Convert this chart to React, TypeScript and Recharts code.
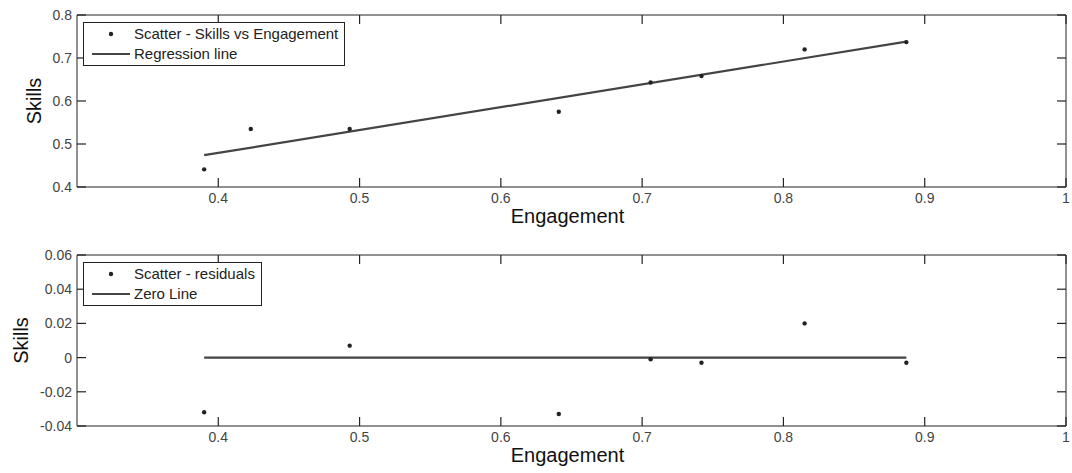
import { ComposedChart, Scatter, Line, XAxis, YAxis } from 'recharts';

// engagement values (x) for the scatter points
const engagement = [0.39, 0.423, 0.493, 0.641, 0.706, 0.742, 0.815, 0.887];
const skills = [0.441, 0.535, 0.535, 0.575, 0.643, 0.658, 0.72, 0.737];

// residuals only show 7 points in the source figure
const residualX = [0.39, 0.493, 0.641, 0.706, 0.742, 0.815, 0.887];
const residuals = [-0.032, 0.007, -0.033, -0.001, -0.003, 0.02, -0.003];

const regressionX = [0.39, 0.887];
const regressionY = [0.474, 0.738];
const zeroX = [0.39, 0.887];
const zeroY = [0, 0];

const xTicks = [0.4, 0.5, 0.6, 0.7, 0.8, 0.9, 1];
const skillTicks = [0.4, 0.5, 0.6, 0.7, 0.8];
const residualTicks = [-0.04, -0.02, 0, 0.02, 0.04, 0.06];

const zip = (xs: number[], ys: number[]) => xs.map((x, i) => ({ x, y: ys[i] }));

const FONT = 'Arial, "Liberation Sans", sans-serif';
const W = 1072;
const TICK = 9;
const tickStyle = { fontSize: 14, fill: '#444', fontFamily: FONT };

const Dot = (props: any) => <circle cx={props.cx} cy={props.cy} r={2.2} fill="#222" />;

// tick renderers: the tick mark points into the plot box, like the source figure
const BottomTick = (props: any) => (
  <g>
    <line x1={props.x} x2={props.x} y1={props.y - 8} y2={props.y - 8 - TICK} stroke="#222" strokeWidth={1.2} />
    <text x={props.x} y={props.y + 8} textAnchor="middle" {...tickStyle}>
      {props.payload.value}
    </text>
  </g>
);
const TopTick = (props: any) => (
  <line x1={props.x} x2={props.x} y1={props.y} y2={props.y + TICK} stroke="#222" strokeWidth={1.2} />
);
const LeftTick = (props: any) => (
  <g>
    <line x1={props.x + 5} x2={props.x + 5 + TICK} y1={props.y} y2={props.y} stroke="#222" strokeWidth={1.2} />
    <text x={props.x} y={props.y + 5} textAnchor="end" {...tickStyle}>
      {props.payload.value}
    </text>
  </g>
);
const RightTick = (props: any) => (
  <line x1={props.x} x2={props.x - TICK} y1={props.y} y2={props.y} stroke="#222" strokeWidth={1.2} />
);

function LegendBox({ labels, left, top }: { labels: [string, string]; left: number; top: number }) {
  return (
    <div
      style={{
        position: 'absolute',
        left,
        top,
        border: '1px solid #222',
        background: '#fff',
        fontFamily: FONT,
        fontSize: 15,
        color: '#222',
        padding: '1px 6px 1px 7px',
        lineHeight: '20px',
        whiteSpace: 'nowrap',
      }}
    >
      <div style={{ display: 'flex', alignItems: 'center' }}>
        <svg width={43} height={20}>
          <circle cx={20} cy={10} r={2.2} fill="#222" />
        </svg>
        <span>{labels[0]}</span>
      </div>
      <div style={{ display: 'flex', alignItems: 'center' }}>
        <svg width={43} height={20}>
          <line x1={1} x2={39} y1={10} y2={10} stroke="#444" strokeWidth={2} />
        </svg>
        <span>{labels[1]}</span>
      </div>
    </div>
  );
}

interface PanelProps {
  height: number;
  top: number;
  bottom: number;
  yDomain: [number, number];
  yTicks: number[];
  scatter: { x: number; y: number }[];
  line: { x: number; y: number }[];
  legend: [string, string];
  yLabelShift: number;
}

function Panel({ height, top, bottom, yDomain, yTicks, scatter, line, legend, yLabelShift }: PanelProps) {
  return (
    <div style={{ position: 'relative', width: W, height }}>
      <ComposedChart width={W} height={height} margin={{ top: top - 1, right: 5, bottom, left: 17 }}>
        <XAxis
          xAxisId="b"
          type="number"
          dataKey="x"
          domain={[0.3, 1]}
          ticks={xTicks}
          allowDataOverflow
          height={40}
          stroke="#222"
          tickLine={false}
          tickSize={0}
          tickMargin={8}
          tick={<BottomTick />}
          label={({ viewBox }: any) => (
            <text
              x={viewBox.x + viewBox.width / 2 - 4}
              y={viewBox.y + 36}
              textAnchor="middle"
              fontFamily={FONT}
              fontSize={20}
              fill="#111"
            >
              Engagement
            </text>
          )}
        />
        <XAxis
          xAxisId="t"
          orientation="top"
          type="number"
          dataKey="x"
          domain={[0.3, 1]}
          ticks={xTicks}
          allowDataOverflow
          height={1}
          stroke="#222"
          tickLine={false}
          tickSize={0}
          tickMargin={0}
          tick={<TopTick />}
        />
        <YAxis
          yAxisId="l"
          type="number"
          domain={yDomain}
          ticks={yTicks}
          allowDataOverflow
          width={60}
          stroke="#222"
          tickLine={false}
          tickSize={0}
          tickMargin={5}
          tick={<LeftTick />}
          label={({ viewBox }: any) => {
            const cx = viewBox.x + yLabelShift;
            const cy = viewBox.y + viewBox.height / 2;
            return (
              <text
                x={cx}
                y={cy}
                transform={`rotate(-90 ${cx} ${cy})`}
                textAnchor="middle"
                dominantBaseline="central"
                fontFamily={FONT}
                fontSize={20}
                fill="#111"
              >
                Skills
              </text>
            );
          }}
        />
        <YAxis
          yAxisId="r"
          orientation="right"
          type="number"
          domain={yDomain}
          ticks={yTicks}
          allowDataOverflow
          width={1}
          stroke="#222"
          tickLine={false}
          tickSize={0}
          tickMargin={0}
          tick={<RightTick />}
        />
        <Line
          xAxisId="b"
          yAxisId="l"
          data={line}
          dataKey="y"
          stroke="#444"
          strokeWidth={2.2}
          dot={false}
          activeDot={false}
          isAnimationActive={false}
        />
        <Scatter
          xAxisId="b"
          yAxisId="l"
          data={scatter}
          dataKey="y"
          shape={<Dot />}
          isAnimationActive={false}
        />
      </ComposedChart>
      <LegendBox labels={legend} left={83} top={top + 7} />
    </div>
  );
}

export default function App() {
  return (
    <div style={{ position: 'absolute', left: 0, top: 0, width: W, height: 473, background: '#fff' }}>
      <Panel
        height={236}
        top={15}
        bottom={9}
        yDomain={[0.4, 0.8]}
        yTicks={skillTicks}
        scatter={zip(engagement, skills)}
        line={zip(regressionX, regressionY)}
        legend={['Scatter - Skills vs Engagement', 'Regression line']}
        yLabelShift={17}
      />
      <Panel
        height={237}
        top={19}
        bottom={7}
        yDomain={[-0.04, 0.06]}
        yTicks={residualTicks}
        scatter={zip(residualX, residuals)}
        line={zip(zeroX, zeroY)}
        legend={['Scatter - residuals', 'Zero Line']}
        yLabelShift={4}
      />
    </div>
  );
}
